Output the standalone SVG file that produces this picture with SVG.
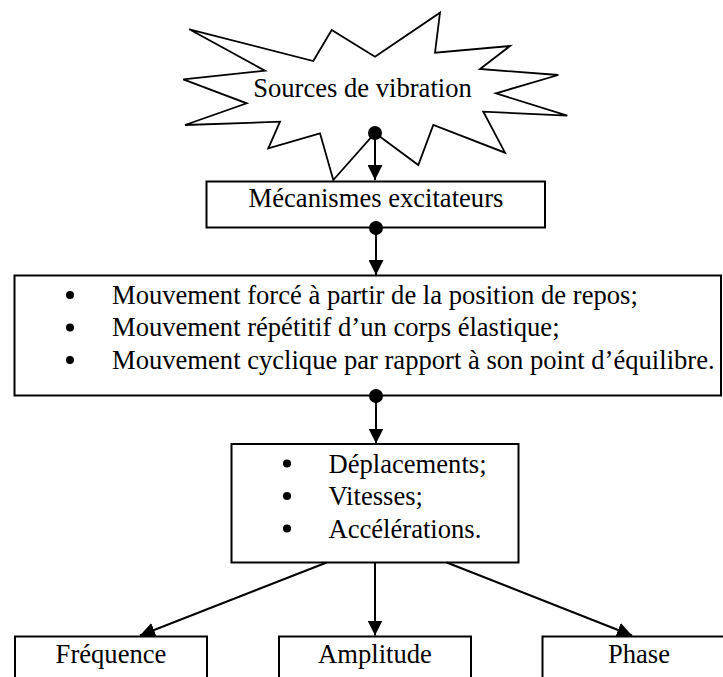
<svg xmlns="http://www.w3.org/2000/svg" width="723" height="677" viewBox="0 0 723 677">
<style>
.box{fill:#fff;stroke:#000;stroke-width:2}
.t{font-family:"Liberation Serif","Times New Roman",serif;font-size:26.6px;fill:#000}
.c{text-anchor:middle}
.ln{stroke:#000;stroke-width:2;fill:none}
.dot{fill:#000}
</style>
<defs>
<marker id="ah" viewBox="0 0 15 15" refX="15" refY="7.5" markerWidth="15" markerHeight="15" markerUnits="userSpaceOnUse" orient="auto">
<path d="M0,0 L15,7.5 L0,15 z" fill="#000"/>
</marker>
</defs>
<rect width="723" height="677" fill="#fff"/>
<g id="sources">
<polygon points="189.3,29.3 313.3,61 331.7,30 375,56.7 440,12.7 435,52.7 510,46 480,69 558.3,75 496,93.3 567.3,115.7 483.3,111.7 505,152.7 433.3,125 418.3,165 375,133 333.3,180 320,133.3 268.3,148.3 280,121.7 185,125 246.7,103.3 183.3,79.3 265,70.7" fill="#fff" stroke="#000" stroke-width="1.8" stroke-linejoin="miter"/>
<text class="t c" x="362.5" y="97">Sources de vibration</text>
</g>
<g id="mecanismes">
<rect class="box" x="206.5" y="181.5" width="338.5" height="46"/>
<text class="t c" x="376" y="207">Mécanismes excitateurs</text>
</g>
<g id="mouvements">
<rect class="box" x="14.5" y="275.5" width="706.5" height="120"/>
<circle class="dot" cx="70" cy="295" r="4"/>
<circle class="dot" cx="70" cy="327.5" r="4"/>
<circle class="dot" cx="70" cy="360" r="4"/>
<text class="t" x="112" y="304">Mouvement forcé à partir de la position de repos;</text>
<text class="t" x="112" y="336">Mouvement répétitif d’un corps élastique;</text>
<text class="t" x="112" y="369">Mouvement cyclique par rapport à son point d’équilibre.</text>
</g>
<g id="grandeurs">
<rect class="box" x="231.5" y="444" width="287" height="118.5"/>
<circle class="dot" cx="287" cy="463.5" r="4"/>
<circle class="dot" cx="287" cy="496" r="4"/>
<circle class="dot" cx="287" cy="528.5" r="4"/>
<text class="t" x="328.5" y="472.5">Déplacements;</text>
<text class="t" x="328.5" y="505">Vitesses;</text>
<text class="t" x="328.5" y="537.5">Accélérations.</text>
</g>
<g id="frequence">
<rect class="box" x="15" y="636.5" width="192" height="50"/>
<text class="t c" x="111" y="663">Fréquence</text>
</g>
<g id="amplitude">
<rect class="box" x="279" y="636.5" width="192" height="50"/>
<text class="t c" x="375" y="663">Amplitude</text>
</g>
<g id="phase">
<rect class="box" x="542.5" y="636.5" width="192" height="50"/>
<text class="t c" x="639" y="663">Phase</text>
</g>
<g id="connectors">
<circle class="dot" cx="375" cy="133" r="7"/>
<line class="ln" x1="375" y1="133" x2="375" y2="180" marker-end="url(#ah)"/>
<circle class="dot" cx="376" cy="228" r="7"/>
<line class="ln" x1="376" y1="228" x2="376" y2="275" marker-end="url(#ah)"/>
<circle class="dot" cx="376" cy="396" r="7"/>
<line class="ln" x1="376" y1="396" x2="376" y2="443.5" marker-end="url(#ah)"/>
<line class="ln" x1="326.7" y1="562.5" x2="140" y2="635.5" marker-end="url(#ah)"/>
<line class="ln" x1="375" y1="562.5" x2="375" y2="635.5" marker-end="url(#ah)"/>
<line class="ln" x1="446.7" y1="562.5" x2="632" y2="635.5" marker-end="url(#ah)"/>
</g>
</svg>
